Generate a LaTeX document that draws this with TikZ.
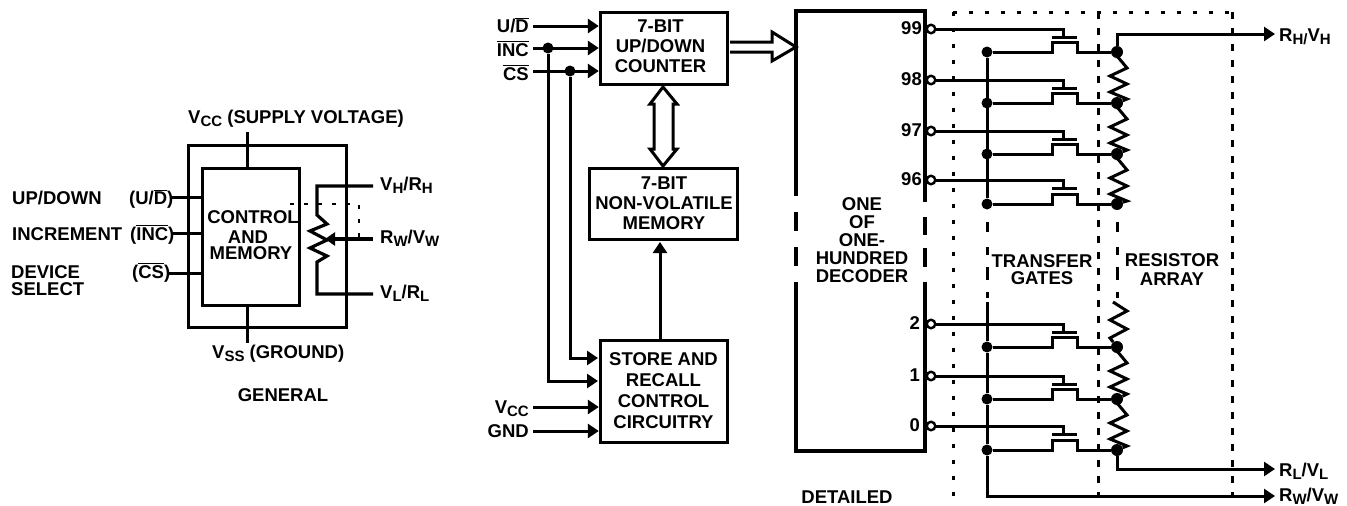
\documentclass[tikz,border=0pt]{standalone}
\usepackage{fontspec}
\setmainfont{Liberation Sans}
\usetikzlibrary{arrows.meta}
\newcommand{\ov}[1]{$\overline{\hbox{#1}}$}
\newcommand{\sbb}[1]{\raisebox{-3.5pt}{\fontsize{15}{15}\selectfont #1}}
\newcommand{\bfs}[2]{\fontsize{#1}{#2}\selectfont\bfseries}
\tikzset{
  wire/.style={line width=3pt,line cap=butt,line join=miter},
  thick box/.style={draw,line width=3.4pt,inner sep=0pt},
  lbl/.style={font=\bfs{18.5}{21},inner sep=0pt,align=center},
  arr/.style={wire,-{Triangle[length=11pt,width=14pt]}},
  dotline/.style={line width=3pt,dash pattern=on 3.5pt off 12.5pt},
  dashline/.style={line width=3pt,dash pattern=on 7pt off 9pt},
  jn/.style={circle,fill,inner sep=0pt,minimum size=11pt},
  bigjn/.style={circle,fill,inner sep=0pt,minimum size=12pt},
  opn/.style={circle,draw,fill=white,line width=2.4pt,inner sep=0pt,minimum size=8.5pt},
  dbl/.style={draw,line width=3pt,fill=white,line join=miter},
}
\begin{document}
\begin{tikzpicture}[x=1pt,y=-1pt]
\useasboundingbox (0,0) rectangle (1347,506);
% ---------- general ----------
\node[thick box,minimum width=158pt,minimum height=182pt] (outer) at (267.5,236.5) {};
\node[thick box,minimum width=97pt,minimum height=137pt] (ctrl) at (251,237) {};
\node[lbl] (c1) at (253,217) {CONTROL};
\node[lbl] (c2) at (248,237) {AND};
\node[lbl] (c3) at (251,253.5) {MEMORY};
\coordinate (vcc0) at (247,132); \coordinate (vcc1) at (247,167);
\coordinate (vss0) at (247,307); \coordinate (vss1) at (247,343);
\draw[wire] (vcc0) -- (vcc1);
\draw[wire] (vss0) -- (vss1);
\foreach \nm/\xx/\yy in {a/170/197,b/173/233,c/169/273}{
  \coordinate (g\nm) at (\xx,\yy);
  \draw[wire] (g\nm) -- (201,\yy);
}
\coordinate (vh) at (373,186); \coordinate (vl) at (373,294); \coordinate (rw) at (373,239);
\draw[wire,line width=3.2pt] (vh) -| (317,215) -- (327,224) -- (310,231) -- (327,240) -- (310,248) -- (327,256) -- (317,262) |- (vl);
\draw[wire,line width=3.2pt,-{Triangle[length=10pt,width=13pt]}] (rw) -- (325,239);
\coordinate (d1) at (290,204); \coordinate (d2) at (359,204); \coordinate (d3) at (359,238);
\draw[line width=2.6pt,dash pattern=on 4pt off 10pt] (d1) -- (d2) -- (d3);
\node[lbl,anchor=base west] (t1) at (188,123) {V\sbb{CC} (SUPPLY VOLTAGE)};
\node[lbl,anchor=base west] (t2) at (212,358) {V\sbb{SS} (GROUND)};
\node[lbl,anchor=base west] (t3) at (380,190) {V\sbb{H}/R\sbb{H}};
\node[lbl,anchor=base west] (t4) at (380,243) {R\sbb{W}/V\sbb{W}};
\node[lbl,anchor=base west] (t5) at (380,298) {V\sbb{L}/R\sbb{L}};
\node[lbl,anchor=base west] (t6) at (12,204) {UP/DOWN};
\node[lbl,anchor=base west] (t7) at (12,240) {INCREMENT};
\node[lbl,anchor=base west] (t8) at (129,204) {(U/\ov{D})};
\node[lbl,anchor=base west] (t9) at (130,240) {(\ov{INC})};
\node[lbl,anchor=base west] (t10) at (132,278) {(\ov{CS})};
\node[lbl,anchor=base west,align=left,font=\bfs{18.5}{16.5}] (t11) at (11,295) {DEVICE\\SELECT};
\node[lbl] (t12) at (283,395) {GENERAL};
% ---------- detailed ----------
\node[thick box,minimum width=127pt,minimum height=72pt] (cnt) at (664,48.5) {};
\node[thick box,minimum width=148pt,minimum height=71pt] (mem) at (663.5,204) {};
\node[thick box,minimum width=127pt,minimum height=102pt] (sto) at (664,391.5) {};
\node[lbl,font=\bfs{18.5}{20}] (cntt) at (660.5,46) {7-BIT\\UP/DOWN\\COUNTER};
\node[lbl,font=\bfs{18.5}{20}] (memt) at (664,203) {7-BIT\\NON-VOLATILE\\MEMORY};
\node[lbl,font=\bfs{18.5}{21}] (stot) at (663.5,390.5) {STORE AND\\RECALL\\CONTROL\\CIRCUITRY};
\foreach \nn/\yy in {a/26,b/48,c/71,d/407,e/431}{
  \coordinate (in\nn) at (533,\yy);
}
\draw[arr] (ina) -- (ina -| cnt.west);
\draw[arr] (inb) -- (inb -| cnt.west);
\draw[arr] (inc) -- (inc -| cnt.west);
\draw[arr] (ind) -- (ind -| sto.west);
\draw[arr] (ine) -- (ine -| sto.west);
\node[jn] (j1) at (548,48) {};
\node[jn] (j2) at (570,71) {};
\coordinate (s1) at (598,381); \coordinate (s2) at (598,358);
\draw[arr] (j1) |- (s1);
\draw[arr] (j2) |- (s2);
\draw[arr] (sto.north -| 660,339) -- (660,242);
\node[lbl,anchor=base east] (l1) at (529,32) {U/\ov{D}};
\node[lbl,anchor=base east] (l2) at (529,56) {\ov{INC}};
\node[lbl,anchor=base east] (l3) at (529,80) {\ov{CS}};
\node[lbl,anchor=base east] (l4) at (529,413) {V\sbb{CC}};
\node[lbl,anchor=base east] (l5) at (529,437) {GND};
% hollow arrows
\draw[dbl] (730,42) -- (772,42) -- (772,32) -- (796,47) -- (772,61) -- (772,52) -- (730,52);
\draw[dbl] (663,87) -- (677,104) -- (673,104) -- (673,149) -- (677,149) -- (663,166) -- (650,149) -- (654,149) -- (654,104) -- (650,104) -- cycle;
% decoder
\coordinate (dtl) at (796,11); \coordinate (dtr) at (925,11);
\coordinate (dbl) at (796,451); \coordinate (dbr) at (925,451);
\draw[wire,line width=3.2pt] (796,196) -- (dtl) -- (dtr) -- (925,202);
\draw[wire,line width=3.2pt] (796,282) -- (dbl) -- (dbr) -- (925,282);
\draw[wire,line width=3.2pt] (796,212) -- (796,231) (796,247) -- (796,266);
\draw[wire,line width=3.2pt] (925,217) -- (925,235) (925,248) -- (925,267);
\node[lbl,font=\bfs{18.5}{18}] (dec) at (862,240.5) {ONE\\OF\\ONE-\\HUNDRED\\DECODER};
\node[lbl,font=\bfs{18.5}{17}] (tg) at (1042,269.5) {TRANSFER\\GATES};
\node[lbl,font=\bfs{18.5}{19}] (ra) at (1172,269.5) {RESISTOR\\ARRAY};
\node[lbl] (det) at (847,497) {DETAILED};
% dotted frames
\coordinate (f1) at (953,12); \coordinate (f2) at (1232,12);
\draw[dotline] (f1) -- (f2);
\draw[dotline] (f1) -- (953,498);
\draw[dashline] (1098,12) -- (1098,496);
\draw[dashline] (f2) -- (1232,496);
% transistors
\foreach \g/\ss/\lbln/\lx in {29/52/99/922,80/103/98/922,131/154/97/922,180/204/96/922,324/347/2/920,376/399/1/920,426/450/0/920}{
  \node[jn] (bus\g) at (987,\ss) {};
  \node[bigjn] (rr\g) at (1117,\ss) {};
  \node[opn] (pin\g) at (931,\g) {};
  \node[lbl,anchor=east] (num\g) at (\lx,\g-1) {\lbln};
  \draw[wire] (pin\g) -| (1063,\g+8);
  \draw[wire] (1052,\g+8) -- (1077,\g+8);
  \draw[wire] (bus\g) -- (1052,\ss) -- (1052,\ss-10) -- (1077,\ss-10) -- (1077,\ss) -- (rr\g);
}
% buses
\draw[wire] (bus29) -- (bus180);
\draw[wire] (987,302) -- (bus324) -- (bus376) -- (bus426);
\coordinate (rwout) at (1275,496);
\draw[arr] (bus426) |- (rwout);
\draw[wire] (987,222) -- (987,232) (987,247) -- (987,255) (987,267) -- (987,280) (987,292) -- (987,298);
\draw[wire] (1117,222) -- (1117,232) (1117,247) -- (1117,255) (1117,267) -- (1117,280) (1117,292) -- (1117,298);
% resistors
\foreach \a/\b in {29/80,80/131,131/180,376/426}{
  \draw[wire] (rr\a) -- ++(0,4) -- ++(10,12) -- ++(-17,8) -- ++(17,8) -- ++(-17,8) -- ++(17,7) -- (rr\b);
}
\coordinate (rtop) at (1113,302);
\draw[wire] (rtop) -- (1127,311) -- (1110,320) -- (1127,329) -- (1110,338) -- (rr324);
\draw[wire] (rr324) -- ++(0,4) -- ++(10,12) -- ++(-17,8) -- ++(17,8) -- ++(-17,8) -- ++(17,7) -- (rr376);
\coordinate (rhout) at (1275,34); \coordinate (rlout) at (1275,469);
\draw[arr] (rr29) |- (rhout);
\draw[arr] (rr426) |- (rlout);
\node[lbl,anchor=base west] (o1) at (1279,41) {R\sbb{H/}V\sbb{H}};
\node[lbl,anchor=base west] (o2) at (1279,476) {R\sbb{L}/V\sbb{L}};
\node[lbl,anchor=base west] (o3) at (1279,501) {R\sbb{W}/V\sbb{W}};
\end{tikzpicture}
\end{document}
